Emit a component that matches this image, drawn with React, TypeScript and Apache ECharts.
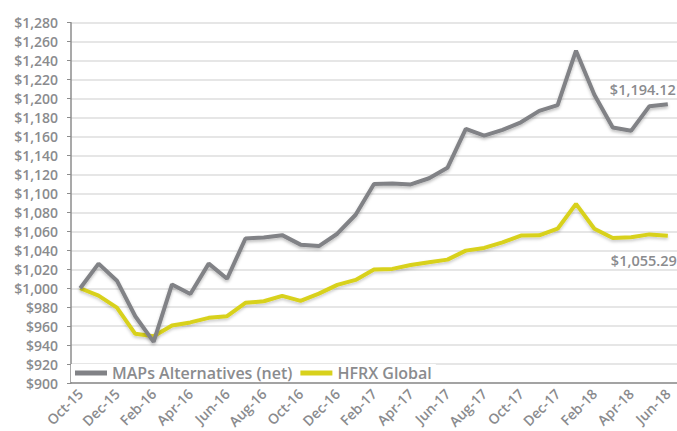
import React, { useEffect, useRef } from "react";
import * as echarts from "echarts";

const months = [
  "Oct-15", "Nov-15", "Dec-15", "Jan-16", "Feb-16", "Mar-16", "Apr-16", "May-16", "Jun-16",
  "Jul-16", "Aug-16", "Sep-16", "Oct-16", "Nov-16", "Dec-16", "Jan-17", "Feb-17", "Mar-17",
  "Apr-17", "May-17", "Jun-17", "Jul-17", "Aug-17", "Sep-17", "Oct-17", "Nov-17", "Dec-17",
  "Jan-18", "Feb-18", "Mar-18", "Apr-18", "May-18", "Jun-18",
];

const mapsValues = [
  1000, 1026, 1008, 970.5, 943.5, 1004, 994, 1026, 1010, 1052.5, 1053.5, 1056, 1046, 1044.5,
  1057.5, 1077.5, 1110, 1110.5, 1109.5, 1116, 1127, 1168, 1161, 1167, 1175, 1187, 1193,
  1250.5, 1204, 1169.5, 1166, 1192, 1194.12,
];

const hfrxValues = [
  1000, 992.3, 979.5, 952, 949.5, 960.7, 964, 968.8, 970.5, 984.6, 986.3, 992, 986.7, 994.4,
  1003.6, 1008.8, 1019.7, 1020.4, 1024.6, 1027.4, 1030.2, 1039.7, 1042.5, 1048.4, 1055.5,
  1055.8, 1062.8, 1089, 1062.8, 1053, 1053.7, 1056.8, 1055.29,
];

const seriesNames = ["MAPs Alternatives (net)", "HFRX Global"];

const FONT = "'Open Sans', 'Noto Sans', sans-serif";
const TEXT = "#8a8b8e";
const GRAY = "#818286";
const YELLOW = "#d8d11c";

const money = (v: number, d = 0) =>
  "$" + v.toLocaleString("en-US", { minimumFractionDigits: d, maximumFractionDigits: d });

function endMark(values: number[], offset: number[]) {
  const i = values.length - 1;
  return {
    symbol: "circle",
    symbolSize: 0,
    silent: true,
    label: {
      show: true,
      position: "inside",
      align: "right",
      verticalAlign: "middle",
      offset,
      color: TEXT,
      fontFamily: FONT,
      fontWeight: 600,
      fontSize: 14.5,
      formatter: () => money(values[i], 2),
    },
    data: [{ coord: [months[i], values[i]], value: values[i] }],
  };
}

export default function App() {
  const ref = useRef<HTMLDivElement>(null);
  useEffect(() => {
    document.body.style.margin = "0";
    const chart = echarts.init(ref.current!, null, { renderer: "svg" });
    chart.setOption({
      animation: false,
      backgroundColor: "#fff",
      grid: { left: 71, top: 22.7, bottom: 47.3, right: -7.8 },
      legend: {
        left: 71,
        top: 364,
        icon: "rect",
        itemWidth: 32,
        itemHeight: 5,
        itemGap: 8,
        backgroundColor: "#fff",
        padding: [1, 4],
        textStyle: { color: TEXT, fontFamily: FONT, fontWeight: 600, fontSize: 16 },
        data: seriesNames,
      },
      xAxis: {
        type: "category",
        data: months,
        boundaryGap: true,
        axisLine: { lineStyle: { color: "#8c8c8c", width: 1.5 } },
        axisTick: { show: false },
        axisLabel: {
          interval: 1,
          rotate: 45,
          margin: 8,
          color: TEXT,
          fontFamily: FONT,
          fontWeight: 600,
          fontSize: 14,
        },
      },
      yAxis: {
        type: "value",
        min: 900,
        max: 1280,
        interval: 20,
        axisLine: { show: true, lineStyle: { color: "#8c8c8c", width: 1.5 } },
        axisTick: { show: true, length: 4, lineStyle: { color: "#8c8c8c" } },
        splitLine: { lineStyle: { color: "#dedede", width: 1.5 } },
        axisLabel: {
          margin: 13,
          color: TEXT,
          fontFamily: FONT,
          fontWeight: 600,
          fontSize: 14,
          formatter: (v: number) => money(v),
        },
      },
      series: [
        {
          name: seriesNames[0],
          type: "line",
          data: mapsValues,
          symbol: "none",
          color: GRAY,
          lineStyle: {
            color: GRAY,
            width: 4,
            shadowColor: "rgba(0,0,0,0.25)",
            shadowBlur: 3,
            shadowOffsetY: 2,
          },
          markPoint: endMark(mapsValues, [8, -15]),
          z: 3,
        },
        {
          name: seriesNames[1],
          type: "line",
          data: hfrxValues,
          symbol: "none",
          color: YELLOW,
          lineStyle: {
            color: YELLOW,
            width: 4,
            shadowColor: "rgba(0,0,0,0.2)",
            shadowBlur: 3,
            shadowOffsetY: 2,
          },
          markPoint: endMark(hfrxValues, [9, 25]),
          z: 2,
        },
      ],
    });
    return () => chart.dispose();
  }, []);
  return <div ref={ref} style={{ width: 677, height: 431 }} />;
}
